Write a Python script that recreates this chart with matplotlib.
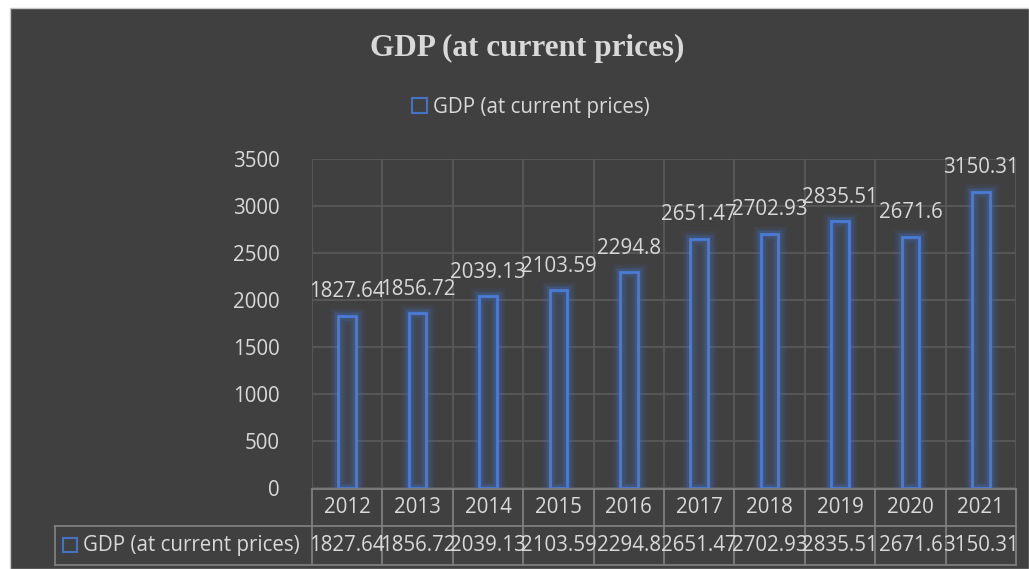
import numpy as np
import matplotlib.pyplot as plt
from matplotlib.patches import Rectangle
import matplotlib.transforms as mtransforms

# data
years = ["2012", "2013", "2014", "2015", "2016", "2017", "2018", "2019", "2020", "2021"]
gdp = [1827.64, 1856.72, 2039.13, 2103.59, 2294.8, 2651.47, 2702.93, 2835.51, 2671.6, 3150.31]
series_name = "GDP (at current prices)"
yticks = [0, 500, 1000, 1500, 2000, 2500, 3000, 3500]

W, H = 1029, 569
bg = "#404040"
txt = "#d9d9d9"
blue = "#4472C4"
grid_c = "#595959"
tab_c = "#7f7f7f"
font = "Open Sans"
fs = 14.8

fig = plt.figure(figsize=(W / 100, H / 100), dpi=100)
fig.patch.set_facecolor("white")

def fx(px):
    return px / W

def fy(py):
    return 1 - py / H

# dark chart background
fig.patches.append(Rectangle((fx(10), 0), 1 - fx(10), fy(8), transform=fig.transFigure,
                             facecolor=bg, edgecolor="#c8c8c8", lw=1.0, zorder=-5))

# clipped caption at very top of page
fig.text(fx(707), 1 + 8 / H, "(at current prices)", ha="right", va="baseline",
         family="Liberation Serif", fontsize=21, color="black")

# plot area
left, right, top, bottom = 312, 1016, 159, 488
ax = fig.add_axes([fx(left), fy(bottom), fx(right) - fx(left), (bottom - top) / H])
ax.set_zorder(2)
ax.set_facecolor("none")
x = np.arange(len(years))
ax.set_xlim(-0.5, len(years) - 0.5)
ax.set_ylim(0, 3500)
for s in ax.spines.values():
    s.set_visible(False)

ax.set_yticks(yticks)
ax.set_yticklabels([str(t) for t in yticks], family=font, fontsize=fs, color=txt)
ax.tick_params(axis="y", length=0, pad=23)
ax.set_xticks([])
ax.set_xticks(np.arange(-0.5, len(years)), minor=True)
ax.tick_params(axis="x", which="minor", length=0)
ax.grid(axis="y", which="major", color=grid_c, lw=1.3)
ax.grid(axis="x", which="minor", color=grid_c, lw=1.3)
ax.set_axisbelow(True)

# bars with glow
bw = 0.25
ax.bar(x, gdp, width=bw, color="#414449", edgecolor="none", zorder=2)
for lw, a in [(12, 0.07), (9, 0.1), (6.5, 0.14), (4.5, 0.2)]:
    ax.bar(x, gdp, width=bw, facecolor="none", edgecolor=blue, lw=lw, alpha=a, zorder=3)
bars = ax.bar(x, gdp, width=bw, facecolor="none", edgecolor="#4a7bd6", lw=2.0, zorder=4,
              label=series_name)

for xi, v in zip(x, gdp):
    ax.annotate(str(v), (xi, v), xytext=(0, 13.5), textcoords="offset points",
                ha="center", va="baseline", family=font, fontsize=fs, color=txt,
                zorder=5)

# title and legend
fig.text(fx(527), fy(48), series_name, ha="center", va="center",
         family="Liberation Serif", fontweight="bold", fontsize=22.5, color=txt)
handle = Rectangle((0, 0), 1, 1, facecolor="none", edgecolor=blue, lw=1.5)
fig.legend([handle], [series_name], loc="center", bbox_to_anchor=(fx(531), fy(107)),
           frameon=False, handlelength=0.7, handleheight=0.7, handletextpad=0.3,
           prop={"family": font, "size": fs}, labelcolor=txt)

# data table below the plot
tr = mtransforms.blended_transform_factory(ax.transData, fig.transFigure)
r0, r1, r2 = 489, 526, 565
lx = 55
kw = dict(color=tab_c, lw=1.3, transform=fig.transFigure, clip_on=False)
fig.add_artist(plt.Line2D([fx(left), fx(right)], [fy(r0), fy(r0)], **kw))
fig.add_artist(plt.Line2D([fx(lx), fx(right)], [fy(r1), fy(r1)], **kw))
fig.add_artist(plt.Line2D([fx(lx), fx(right)], [fy(r2), fy(r2)], **kw))
fig.add_artist(plt.Line2D([fx(lx), fx(lx)], [fy(r1), fy(r2)], **kw))
for b in np.arange(-0.5, len(years)):
    ax.plot([b, b], [fy(r0), fy(r2)], color=tab_c, lw=1.3, transform=tr, clip_on=False)
for xi, yr, v in zip(x, years, gdp):
    ax.text(xi, fy((r0 + r1) / 2), yr, transform=tr, ha="center", va="center",
            family=font, fontsize=fs, color=txt)
    ax.text(xi, fy((r1 + r2) / 2), str(v), transform=tr, ha="center", va="center",
            family=font, fontsize=fs, color=txt)

fig.patches.append(Rectangle((fx(63), fy(552)), fx(14), 14 / H, transform=fig.transFigure,
                             facecolor="none", edgecolor=blue, lw=1.5))
fig.text(fx(83), fy((r1 + r2) / 2), series_name, ha="left", va="center",
         family=font, fontsize=fs, color=txt)

fig.savefig("out.png", dpi=100, facecolor=fig.get_facecolor())
